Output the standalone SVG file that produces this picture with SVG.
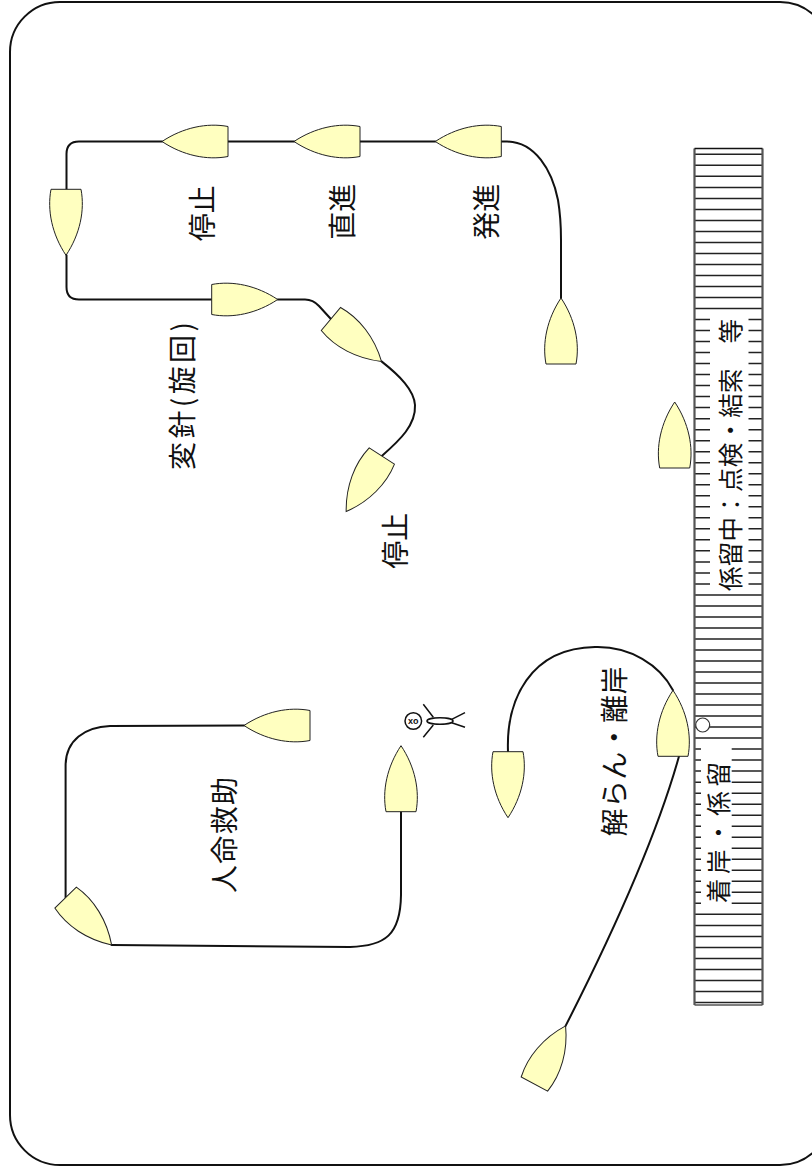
<svg xmlns="http://www.w3.org/2000/svg" xmlns:xlink="http://www.w3.org/1999/xlink" width="812" height="1174" viewBox="0 0 812 1174">
  <style>
    .frame { fill: #ffffff; stroke: #111111; stroke-width: 2; }
    .route { fill: none; stroke: #111111; stroke-width: 2; stroke-linecap: round; stroke-linejoin: round; }
    .hull { fill: #ffffc0; stroke: #222222; stroke-width: 1; }
    .label { font-family: "Noto Sans CJK JP", "Noto Sans", sans-serif; font-size: 28px; fill: #111111; text-anchor: middle; dominant-baseline: central; }
    .dock-label { font-size: 24.5px; }
    .stripes { fill: none; stroke: #222222; stroke-width: 1.5; }
    .pier { fill: none; stroke: #555555; stroke-width: 2.2; }
    .figure { fill: #ffffff; stroke: #111111; stroke-width: 1.5; }
  </style>
  <defs>
    <!-- hull pointing up: bow at top, flat stern at bottom -->
    <path id="boat" class="hull" d="M-15,33 C-19,12 -14,-12 0,-33 C14,-12 19,12 15,33 Z"/>
  </defs>

  <rect class="frame" x="10" y="2" width="820" height="1163" rx="50" ry="50"/>

  <!-- pier / quay -->
  <g id="pier">
    <rect x="694.5" y="148.5" width="68" height="856.5" fill="#ffffff"/>
    <path class="stripes" d="M694.5,154.3H762.5M694.5,165.3H762.5M694.5,176.3H762.5M694.5,187.4H762.5M694.5,198.4H762.5M694.5,209.4H762.5M694.5,220.4H762.5M694.5,231.4H762.5M694.5,242.4H762.5M694.5,253.4H762.5M694.5,264.5H762.5M694.5,275.5H762.5M694.5,286.5H762.5M694.5,297.5H762.5M694.5,308.5H762.5M694.5,319.5H762.5M694.5,330.5H762.5M694.5,341.6H762.5M694.5,352.6H762.5M694.5,363.6H762.5M694.5,374.6H762.5M694.5,385.6H762.5M694.5,396.6H762.5M694.5,407.6H762.5M694.5,418.7H762.5M694.5,429.7H762.5M694.5,440.7H762.5M694.5,451.7H762.5M694.5,462.7H762.5M694.5,473.7H762.5M694.5,484.8H762.5M694.5,495.8H762.5M694.5,506.8H762.5M694.5,517.8H762.5M694.5,528.8H762.5M694.5,539.8H762.5M694.5,550.8H762.5M694.5,561.9H762.5M694.5,572.9H762.5M694.5,583.9H762.5M694.5,594.9H762.5M694.5,605.9H762.5M694.5,616.9H762.5M694.5,627.9H762.5M694.5,639H762.5M694.5,650H762.5M694.5,661H762.5M694.5,672H762.5M694.5,683H762.5M694.5,694H762.5M694.5,705.1H762.5M694.5,716.1H762.5M694.5,727.1H762.5M694.5,738.1H762.5M694.5,749.1H762.5M694.5,760.1H762.5M694.5,771.1H762.5M694.5,782.2H762.5M694.5,793.2H762.5M694.5,804.2H762.5M694.5,815.2H762.5M694.5,826.2H762.5M694.5,837.2H762.5M694.5,848.2H762.5M694.5,859.3H762.5M694.5,870.3H762.5M694.5,881.3H762.5M694.5,892.3H762.5M694.5,903.3H762.5M694.5,914.3H762.5M694.5,925.4H762.5M694.5,936.4H762.5M694.5,947.4H762.5M694.5,958.4H762.5M694.5,969.4H762.5M694.5,980.4H762.5M694.5,991.4H762.5M694.5,1002.5H762.5"/>
    <rect x="710" y="312" width="38.5" height="279" fill="#ffffff"/>
    <rect x="701" y="742" width="30.7" height="168" fill="#ffffff"/>
    <path class="pier" d="M694.5,148.5V1005M762.5,148.5V1005"/>
    <path d="M694.5,148.5H762.5" fill="none" stroke="#111111" stroke-width="1.5"/>
    <path d="M694.5,1005H762.5" fill="none" stroke="#555555" stroke-width="1.5"/>
    <circle cx="702.7" cy="725" r="7" fill="#ffffff" stroke="#333333" stroke-width="1.2"/>
    <text class="label dock-label" transform="translate(729,455) rotate(-90)" textLength="272" lengthAdjust="spacing">係留中：点検・結索　等</text>
    <text class="label dock-label" transform="translate(717,832.5) rotate(-90)" textLength="141" lengthAdjust="spacing">着岸・係留</text>
  </g>

  <g id="connectors">
    <path class="route" d="M501.5,141.5 H507 C535,142 552,170 558,200 C560.5,215 561,230 561,240 V298"/>
    <path class="route" d="M435.3,141.5 H360"/>
    <path class="route" d="M294,141.5 H228"/>
    <path class="route" d="M162,141.5 H79 Q66.5,141.5 66.5,154 V189.3"/>
    <path class="route" d="M66.5,255.3 V287 Q66.5,299.5 79,299.5 H211.7"/>
    <path class="route" d="M277.7,299.5 H305 Q313,299.5 319,306 L330.9,319"/>
    <path class="route" d="M381.5,361.4 C400,376 414,390 415,405 C416,425 400,440 381.8,456"/>
    <path class="route" d="M401,811.7 V895 C400.5,935 385,946 350,947 L111.6,945"/>
    <path class="route" d="M65.6,897.6 V765 C66,740 85,727 110,726 L244,725.5"/>
    <path class="route" d="M508,751.7 C506,700 530,648 595,647 C630,646 660,665 673,690.3"/>
    <path class="route" d="M679,756.3 Q650,860 565.6,1025.9"/>
  </g>

  <g id="boat-stop-1"><use xlink:href="#boat" href="#boat" transform="translate(195,141.5) rotate(-90)"/></g>
  <g id="boat-straight"><use xlink:href="#boat" href="#boat" transform="translate(327,141.5) rotate(-90)"/></g>
  <g id="boat-start"><use xlink:href="#boat" href="#boat" transform="translate(468.3,141.5) rotate(-90)"/></g>
  <g id="boat-turn-down"><use xlink:href="#boat" href="#boat" transform="translate(66,222.3) rotate(180)"/></g>
  <g id="boat-turn-right"><use xlink:href="#boat" href="#boat" transform="translate(244.7,299.5) rotate(90)"/></g>
  <g id="boat-turning"><use xlink:href="#boat" href="#boat" transform="translate(356.2,340.2) rotate(130)"/></g>
  <g id="boat-stop-2"><use xlink:href="#boat" href="#boat" transform="translate(364,483.8) rotate(212.7)"/></g>
  <g id="boat-depart"><use xlink:href="#boat" href="#boat" transform="translate(561,331)"/></g>
  <g id="boat-moored"><use xlink:href="#boat" href="#boat" transform="translate(674.7,435)"/></g>
  <g id="boat-berth"><use xlink:href="#boat" href="#boat" transform="translate(673,723.3)"/></g>
  <g id="boat-unberth"><use xlink:href="#boat" href="#boat" transform="translate(508,784.7) rotate(180)"/></g>
  <g id="boat-rescue-approach"><use xlink:href="#boat" href="#boat" transform="translate(401,778.7)"/></g>
  <g id="boat-rescue-top"><use xlink:href="#boat" href="#boat" transform="translate(277,725.5) rotate(-90)"/></g>
  <g id="boat-rescue-corner"><use xlink:href="#boat" href="#boat" transform="translate(88.6,921.3) rotate(135.8)"/></g>
  <g id="boat-leave"><use xlink:href="#boat" href="#boat" transform="translate(550,1055) rotate(28.2)"/></g>

  <!-- person in the water -->
  <g id="person">
    <path class="figure" d="M433.3,717.3 L423.3,704.3 M433.3,725 L423.3,737.3 M451.7,719.3 L465,712.7 M451.7,722.7 L465,727.3"/>
    <ellipse class="figure" cx="440" cy="721" rx="13" ry="3.3"/>
    <circle class="figure" cx="413.3" cy="721" r="8.3"/>
    <text x="413.3" y="721" font-family="'Liberation Sans', sans-serif" font-size="9" font-weight="bold" text-anchor="middle" dominant-baseline="central" fill="#111111">xo</text>
  </g>

  <g id="labels">
    <text class="label" transform="translate(200.8,213.3) rotate(-90)">停止</text>
    <text class="label" transform="translate(341,211.7) rotate(-90)">直進</text>
    <text class="label" transform="translate(485,211.7) rotate(-90)">発進</text>
    <text class="label" transform="translate(181,396) rotate(-90)" textLength="148" lengthAdjust="spacing">変針(旋回)</text>
    <text class="label" transform="translate(394.3,540.8) rotate(-90)">停止</text>
    <text class="label" transform="translate(223.3,835) rotate(-90)" textLength="116" lengthAdjust="spacing">人命救助</text>
    <text class="label" transform="translate(613.3,751.5) rotate(-90)" textLength="170" lengthAdjust="spacing">解らん・離岸</text>
  </g>
</svg>
